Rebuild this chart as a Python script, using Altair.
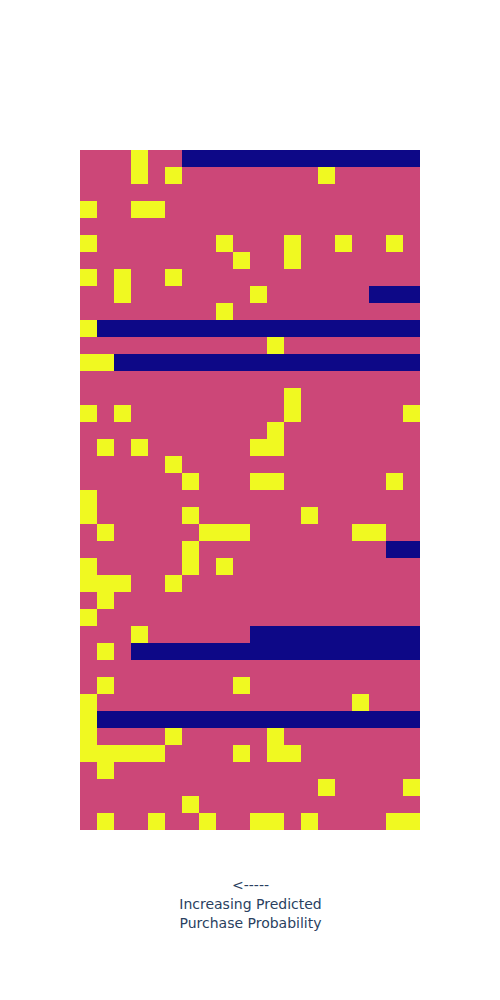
import altair as alt
import pandas as pd

# 0 = no further session, 1 = session without purchase, 2 = purchase
r00 = [1,1,1,2,1,1,0,0,0,0,0,0,0,0,0,0,0,0,0,0]
r01 = [1,1,1,2,1,2,1,1,1,1,1,1,1,1,2,1,1,1,1,1]
r02 = [1,1,1,1,1,1,1,1,1,1,1,1,1,1,1,1,1,1,1,1]
r03 = [2,1,1,2,2,1,1,1,1,1,1,1,1,1,1,1,1,1,1,1]
r04 = [1,1,1,1,1,1,1,1,1,1,1,1,1,1,1,1,1,1,1,1]
r05 = [2,1,1,1,1,1,1,1,2,1,1,1,2,1,1,2,1,1,2,1]
r06 = [1,1,1,1,1,1,1,1,1,2,1,1,2,1,1,1,1,1,1,1]
r07 = [2,1,2,1,1,2,1,1,1,1,1,1,1,1,1,1,1,1,1,1]
r08 = [1,1,2,1,1,1,1,1,1,1,2,1,1,1,1,1,1,0,0,0]
r09 = [1,1,1,1,1,1,1,1,2,1,1,1,1,1,1,1,1,1,1,1]
r10 = [2,0,0,0,0,0,0,0,0,0,0,0,0,0,0,0,0,0,0,0]
r11 = [1,1,1,1,1,1,1,1,1,1,1,2,1,1,1,1,1,1,1,1]
r12 = [2,2,0,0,0,0,0,0,0,0,0,0,0,0,0,0,0,0,0,0]
r13 = [1,1,1,1,1,1,1,1,1,1,1,1,1,1,1,1,1,1,1,1]
r14 = [1,1,1,1,1,1,1,1,1,1,1,1,2,1,1,1,1,1,1,1]
r15 = [2,1,2,1,1,1,1,1,1,1,1,1,2,1,1,1,1,1,1,2]
r16 = [1,1,1,1,1,1,1,1,1,1,1,2,1,1,1,1,1,1,1,1]
r17 = [1,2,1,2,1,1,1,1,1,1,2,2,1,1,1,1,1,1,1,1]
r18 = [1,1,1,1,1,2,1,1,1,1,1,1,1,1,1,1,1,1,1,1]
r19 = [1,1,1,1,1,1,2,1,1,1,2,2,1,1,1,1,1,1,2,1]
r20 = [2,1,1,1,1,1,1,1,1,1,1,1,1,1,1,1,1,1,1,1]
r21 = [2,1,1,1,1,1,2,1,1,1,1,1,1,2,1,1,1,1,1,1]
r22 = [1,2,1,1,1,1,1,2,2,2,1,1,1,1,1,1,2,2,1,1]
r23 = [1,1,1,1,1,1,2,1,1,1,1,1,1,1,1,1,1,1,0,0]
r24 = [2,1,1,1,1,1,2,1,2,1,1,1,1,1,1,1,1,1,1,1]
r25 = [2,2,2,1,1,2,1,1,1,1,1,1,1,1,1,1,1,1,1,1]
r26 = [1,2,1,1,1,1,1,1,1,1,1,1,1,1,1,1,1,1,1,1]
r27 = [2,1,1,1,1,1,1,1,1,1,1,1,1,1,1,1,1,1,1,1]
r28 = [1,1,1,2,1,1,1,1,1,1,0,0,0,0,0,0,0,0,0,0]
r29 = [1,2,1,0,0,0,0,0,0,0,0,0,0,0,0,0,0,0,0,0]
r30 = [1,1,1,1,1,1,1,1,1,1,1,1,1,1,1,1,1,1,1,1]
r31 = [1,2,1,1,1,1,1,1,1,2,1,1,1,1,1,1,1,1,1,1]
r32 = [2,1,1,1,1,1,1,1,1,1,1,1,1,1,1,1,2,1,1,1]
r33 = [2,0,0,0,0,0,0,0,0,0,0,0,0,0,0,0,0,0,0,0]
r34 = [2,1,1,1,1,2,1,1,1,1,1,2,1,1,1,1,1,1,1,1]
r35 = [2,2,2,2,2,1,1,1,1,2,1,2,2,1,1,1,1,1,1,1]
r36 = [1,2,1,1,1,1,1,1,1,1,1,1,1,1,1,1,1,1,1,1]
r37 = [1,1,1,1,1,1,1,1,1,1,1,1,1,1,2,1,1,1,1,2]
r38 = [1,1,1,1,1,1,2,1,1,1,1,1,1,1,1,1,1,1,1,1]
r39 = [1,2,1,1,2,1,1,2,1,1,2,2,1,2,1,1,1,1,2,2]

rows = [r00, r01, r02, r03, r04, r05, r06, r07, r08, r09,
        r10, r11, r12, r13, r14, r15, r16, r17, r18, r19,
        r20, r21, r22, r23, r24, r25, r26, r27, r28, r29,
        r30, r31, r32, r33, r34, r35, r36, r37, r38, r39]

records = []
for i, row in enumerate(rows):
    for j, v in enumerate(row):
        records.append({"row": i, "col": j, "value": v})
df = pd.DataFrame(records)

chart = (
    alt.Chart(df)
    .mark_rect(strokeWidth=0)
    .encode(
        x=alt.X(
            "col:O",
            axis=alt.Axis(
                title=["<-----", "Increasing Predicted", "Purchase Probability"],
                labels=False,
                ticks=False,
                domain=False,
                grid=False,
                titlePadding=48,
                titleFont="DejaVu Sans",
                titleFontSize=14,
                titleFontWeight="normal",
                titleColor="#2a3f5f",
                titleLineHeight=19,
            ),
            scale=alt.Scale(paddingInner=0, paddingOuter=0),
        ),
        y=alt.Y("row:O", axis=None, scale=alt.Scale(paddingInner=0, paddingOuter=0)),
        color=alt.Color(
            "value:O",
            scale=alt.Scale(domain=[0, 1, 2], range=["#0d0887", "#cc4778", "#f0f921"]),
            legend=None,
        ),
    )
    .properties(
        width=340,
        height=680,
        padding={"left": 80, "top": 150, "right": 80, "bottom": 20},
    )
    .configure_view(strokeWidth=0)
)

chart.save("out.html", embed_options={"renderer": "svg", "actions": False})
